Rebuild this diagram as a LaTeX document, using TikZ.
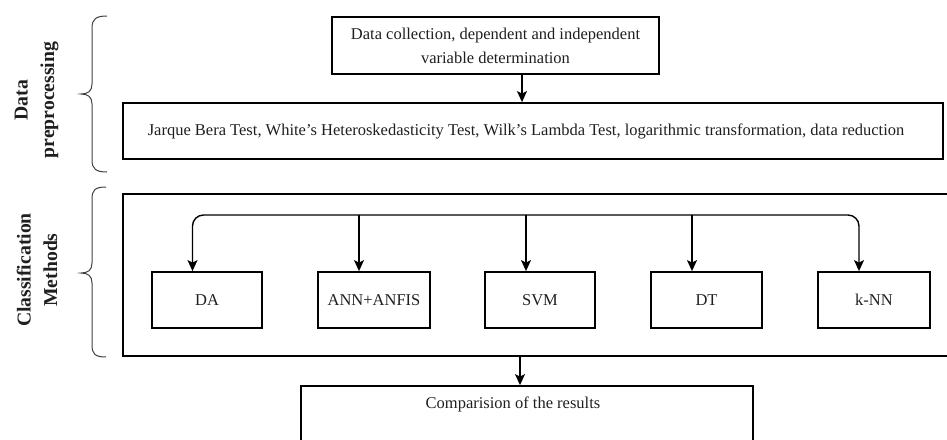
\documentclass[tikz,border=0pt]{standalone}
\usepackage{fontspec}
\setmainfont{Liberation Serif}
\usetikzlibrary{arrows.meta,calc}
\newcommand{\sq}{{\char"0027}}
\begin{document}
\begin{tikzpicture}[x=1pt,y=-1pt,
  txt/.style={font=\fontsize{16.5}{24}\selectfont, text=black!88},
  box/.style={draw, line width=1.8pt, rectangle, inner sep=0pt, txt, align=center},
  arr/.style={line width=1.4pt, -{Stealth[length=11pt,width=10pt,inset=2.5pt]}},
  brc/.style={line width=1pt, black!75},
  lab/.style={font=\bfseries\fontsize{19.7}{26.5}\selectfont, rotate=90, align=center, text=black!88}]
\useasboundingbox (0,0) rectangle (947,439);
\clip (0,0) rectangle (947,439);

% data preprocessing
\node[box, minimum width=327, minimum height=57] (top) at (495.5,45.5)
  {Data collection, dependent and independent\\variable determination};
\node[box, minimum width=820, minimum height=56] (prep) at (533,131)
  {Jarque Bera Test, White\sq s Heteroskedasticity Test, Wilk\sq s Lambda Test, logarithmic transformation, data reduction\hspace*{14pt}};
\draw[arr] ([xshift=26.5pt]top.south) -- ([xshift=26.5pt]top.south |- prep.north);

% classification
\node[box, minimum width=837, minimum height=162] (cls) at (541.5,275) {};
\node[box, minimum width=110, minimum height=56] (da) at (207,300) {DA};
\node[box, minimum width=112, minimum height=56] (ann) at (374,300) {ANN+ANFIS};
\node[box, minimum width=110, minimum height=56] (svm) at (540,300) {SVM};
\node[box, minimum width=111, minimum height=56] (dt) at (706.5,300) {DT};
\node[box, minimum width=112, minimum height=56] (knn) at (874,300) {k-NN};
\coordinate (bus) at (0,215);
\draw[line width=1.4pt, {Stealth[length=11pt,width=10pt,inset=2.5pt]}-{Stealth[length=11pt,width=10pt,inset=2.5pt]}, rounded corners=11pt]
  ([xshift=-14.5pt]da.north) |- ([xshift=-15pt]knn.north |- bus) -- ([xshift=-15pt]knn.north);
\draw[arr] ([xshift=-15pt]ann.north |- bus) -- ([xshift=-15pt]ann.north);
\draw[arr] ([xshift=-14pt]svm.north |- bus) -- ([xshift=-14pt]svm.north);
\draw[arr] ([xshift=-14.5pt]dt.north |- bus) -- ([xshift=-14.5pt]dt.north);

% results
\node[box, minimum width=452, minimum height=94] (res) at (527,433) {};
\node[txt] (restext) at (513,404) {Comparision of the results};
\draw[arr] ([xshift=-7pt]res.north |- cls.south) -- ([xshift=-7pt]res.north);

% braces
\draw[brc] (107,16) .. controls (96,16) and (92,19) .. (92,28) -- (92,84)
  .. controls (92,91) and (88,94) .. (81,94) .. controls (88,94) and (92,97) .. (92,104)
  -- (92,160) .. controls (92,169) and (96,172) .. (107,172);
\draw[brc] (106,187) .. controls (95,187) and (92,190) .. (92,199) -- (92,263)
  .. controls (92,270) and (88,273) .. (81,273) .. controls (88,273) and (92,276) .. (92,283)
  -- (92,345) .. controls (92,354) and (95,357) .. (106,357);

% labels
\node[lab] (l1) at (36.5,100) {Data\\preprocessing};
\node[lab] (l2) at (37,270) {Classification\\Methods};
\end{tikzpicture}
\end{document}
